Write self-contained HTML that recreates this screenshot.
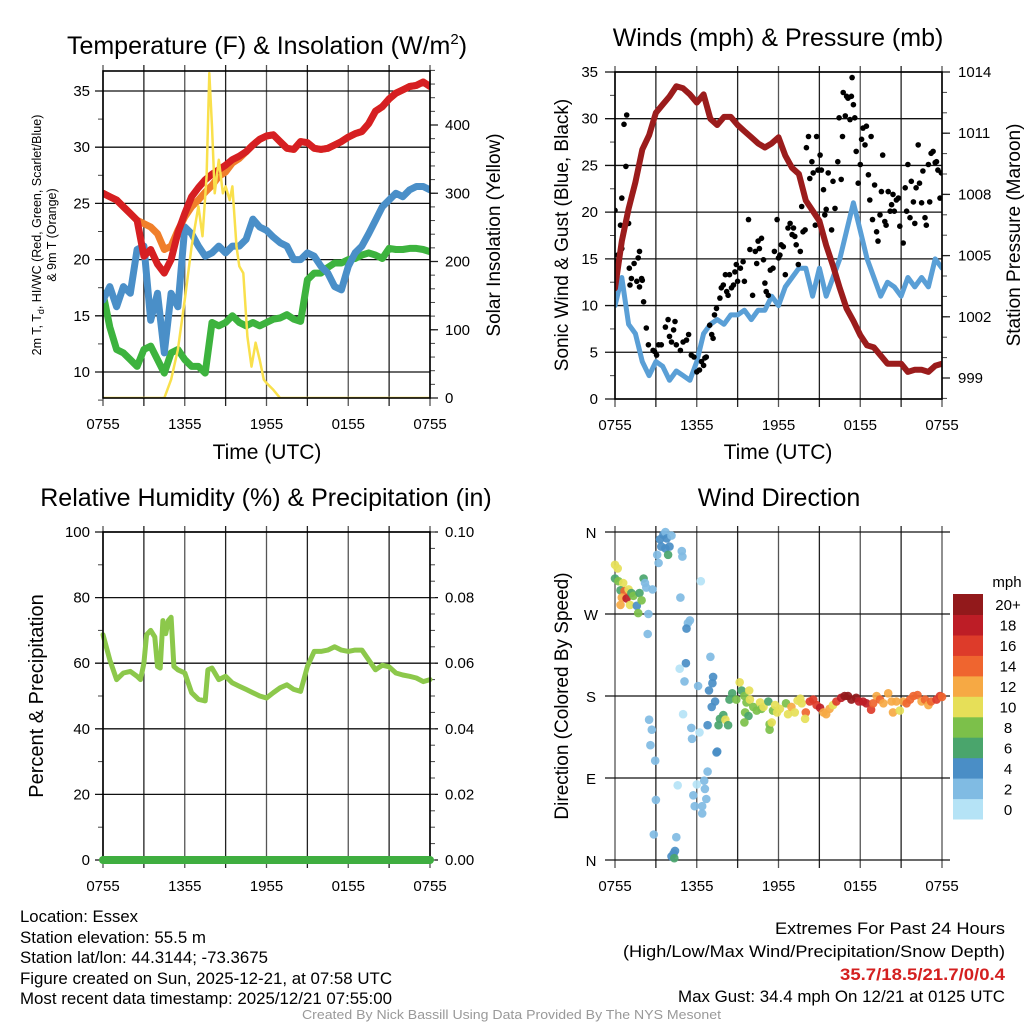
<!DOCTYPE html>
<html><head><meta charset="utf-8"><title>Mesonet Essex</title>
<style>
html,body{margin:0;padding:0;background:#fff;}
svg{display:block;font-family:"Liberation Sans",Arial,sans-serif;}
</style></head>
<body>
<svg id="fig" xmlns="http://www.w3.org/2000/svg" width="1024" height="1024" viewBox="0 0 1024 1024">
<rect x="0" y="0" width="1024" height="1024" fill="#fff"/>
<text x="267" y="54" font-size="25" text-anchor="middle">Temperature (F) &amp; Insolation (W/m<tspan font-size="15" dy="-10">2</tspan><tspan dy="10">)</tspan></text>
<text x="778" y="46" font-size="25" text-anchor="middle">Winds (mph) &amp; Pressure (mb)</text>
<text x="266" y="506" font-size="25" text-anchor="middle">Relative Humidity (%) &amp; Precipitation (in)</text>
<text x="779" y="506" font-size="25" text-anchor="middle">Wind Direction</text>

<text transform="translate(41,235) rotate(-90)" font-size="12.5" text-anchor="middle">2m T, T<tspan font-size="9" dy="3">d</tspan><tspan dy="-3">, HI/WC (Red, Green, Scarlet/Blue)</tspan></text>
<text transform="translate(56,235) rotate(-90)" font-size="12.5" text-anchor="middle">&amp; 9m T (Orange)</text>
<text transform="translate(500,235) rotate(-90)" font-size="19" text-anchor="middle">Solar Insolation (Yellow)</text>
<text x="267" y="459" font-size="21" text-anchor="middle">Time (UTC)</text>
<text transform="translate(568,235) rotate(-90)" font-size="19" text-anchor="middle">Sonic Wind &amp; Gust (Blue, Black)</text>
<text transform="translate(1020,235) rotate(-90)" font-size="19" text-anchor="middle">Station Pressure (Maroon)</text>
<text x="778" y="459" font-size="21" text-anchor="middle">Time (UTC)</text>
<text transform="translate(43,696) rotate(-90)" font-size="20" text-anchor="middle">Percent &amp; Precipitation</text>
<text transform="translate(568,696) rotate(-90)" font-size="19" text-anchor="middle">Direction (Colored By Speed)</text>

<g font-size="16.5">
<text x="20" y="922" textLength="118" lengthAdjust="spacingAndGlyphs">Location: Essex</text>
<text x="20" y="943" textLength="186" lengthAdjust="spacingAndGlyphs">Station elevation: 55.5 m</text>
<text x="20" y="963" textLength="248" lengthAdjust="spacingAndGlyphs">Station lat/lon: 44.3144; -73.3675</text>
<text x="20" y="984" textLength="372" lengthAdjust="spacingAndGlyphs">Figure created on Sun, 2025-12-21, at 07:58 UTC</text>
<text x="20" y="1004" textLength="372" lengthAdjust="spacingAndGlyphs">Most recent data timestamp: 2025/12/21 07:55:00</text>
</g>
<g font-size="16.5">
<text x="775" y="934" textLength="230" lengthAdjust="spacingAndGlyphs">Extremes For Past 24 Hours</text>
<text x="623" y="957" textLength="382" lengthAdjust="spacingAndGlyphs">(High/Low/Max Wind/Precipitation/Snow Depth)</text>
<text x="840" y="980" textLength="165" lengthAdjust="spacingAndGlyphs" fill="#d42020" font-weight="bold">35.7/18.5/21.7/0/0.4</text>
<text x="678" y="1002" textLength="327" lengthAdjust="spacingAndGlyphs">Max Gust: 34.4 mph On 12/21 at 0125 UTC</text>
</g>
<text x="302" y="1019" font-size="13" textLength="419" lengthAdjust="spacingAndGlyphs" fill="#999">Created By Nick Bassill Using Data Provided By The NYS Mesonet</text>
</svg>
<script>
// ---------- data ----------
const hours = [0,0.5,1,1.5,2,2.5,3,3.5,4,4.5,5,5.5,6,6.5,7,7.5,8,8.5,9,9.5,10,10.5,11,11.5,12,12.5,13,13.5,14,14.5,15,15.5,16,16.5,17,17.5,18,18.5,19,19.5,20,20.5,21,21.5,22,22.5,23,23.5,24];
const xTickLabels = ["0755","1355","1955","0155","0755"];
const tempRed = [25.9,25.6,25.3,24.7,24.1,23.5,20.3,20.9,19.6,18.8,20,22.4,24.1,25.6,26.4,27.1,27.6,28,28.4,28.9,29.2,29.6,30.2,30.7,31,31.1,30.5,29.9,29.8,30.5,30.4,29.9,29.8,29.9,30.2,30.5,30.9,31.2,31.4,32.1,33.2,33.6,34.3,34.8,35.1,35.4,35.5,35.8,35.4];
const temp9m = [25.9,25.6,25.3,24.7,24.1,23.5,23.2,22.9,22.3,20.9,21.2,22.6,23.8,24.7,25.3,26,26.6,27.4,27.8,28.6,29,29.6,30.2,30.7,31,31.1,30.5,29.9,29.8,30.5,30.4,29.9,29.8,29.9,30.2,30.5,30.9,31.2,31.4,32.1,33.2,33.6,34.3,34.8,35.1,35.4,35.5,35.8,35.4];
const windChill = [16.4,17.6,15.8,17.6,17,20.9,21.2,14.6,17,11.7,17,15.8,22.9,22.3,21.2,20.3,20.6,21.2,20.6,21.2,21.2,21.8,23.6,22.9,22.6,22,21.5,21.2,20,20,20.6,20.3,19.4,18.8,17.6,17.3,19.4,20.6,21.2,22.3,23.5,24.7,25.3,25.9,25.6,26.2,26.5,26.5,26.2];
const dewPoint = [17,14,12,11.7,11.1,10.5,12,12.3,11.1,9.9,11.7,12,11.1,10.5,10.5,9.9,14.4,14.1,14.4,15,14.4,14.1,14.4,14.1,14.4,14.7,14.8,15.1,14.7,14.5,18.2,18.8,18.8,19.3,19.7,19.7,20,20.1,20.4,20.6,20.4,20.1,21,20.9,20.9,21,21,20.9,20.7];
const solarHours = [0,4.5,5,5.5,6,6.5,7,7.3,7.6,7.8,8,8.2,8.5,8.8,9,9.3,9.5,9.8,10,10.3,10.6,10.9,11.2,11.5,11.8,12,12.5,13,24];
const solarValues = [0,0,27,71,144,222,281,237,325,476,398,300,349,300,310,290,310,222,193,183,90,46,81,56,27,22,12,0,0];
const tempTicks = [10,15,20,25,30,35];
const solarTicks = [0,100,200,300,400];

const windSpeed = [10,13,8,7,4,2.5,4,3.5,2,3,2.5,2,4,7,8,8.5,8,9,9,9.5,8.5,9.5,9.5,11,10,12,13,14,14,11,14,11,13,15,18,21,18,15,13,11,12.5,12,11,13,12,13,12,15,14];
const pressure = [1003.4,1005.7,1007.3,1008.6,1010.2,1010.9,1012,1012.4,1012.8,1013.3,1013.2,1012.9,1012.5,1012.9,1011.7,1011.4,1011.8,1011.8,1011.4,1011.1,1010.8,1010.5,1010.3,1010.5,1010.8,1009.9,1009.3,1009,1007.7,1007.2,1006.7,1005.5,1004.5,1003.4,1002.4,1001.8,1001.1,1000.6,1000.5,1000.1,999.7,999.7,999.7,999.3,999.4,999.4,999.3,999.6,999.7];
const gustHours = [0,0,0.2,0.4,0.5,0.5,0.66,0.8,0.86,0.7,1,1.05,1.1,1.2,1.4,1.6,1.7,1.8,1.8,1.95,2,2.1,2.3,2.45,2.8,2.9,3.05,3.2,3.4,3.7,3.9,4,4.15,4.3,4.4,4.5,4.8,5,5.25,5.4,5.6,5.8,6,6.2,6.35,6.5,6.6,6.7,6.95,7.1,7.2,7.3,7.45,7.7,7.8,7.95,8.1,8.2,8.3,8.4,8.55,8.7,8.8,8.9,9,9.2,9.4,9.5,9.8,9.9,10.1,10.3,10.4,10.5,10.6,10.75,10.9,11,11.1,11.25,11.4,11.6,11.7,11.9,12,12.1,12.2,12.35,12.5,12.7,12.85,13,13.1,13.2,13.3,13.45,13.6,13.7,13.8,13.95,14.05,14.2,14.3,14.45,14.55,14.7,14.8,14.9,15.05,15.15,15.3,15.4,15.5,15.65,15.9,16,16.15,16.35,16.45,16.6,16.7,16.75,16.9,17,17.1,17.25,17.35,17.4,17.5,17.6,17.7,17.85,18,18.1,18.2,18.35,18.45,18.6,18.7,18.8,18.9,19.05,19.2,19.3,19.45,19.55,19.65,19.8,19.9,20.05,20.2,20.3,20.4,20.5,20.65,20.8,20.9,21.15,21.3,21.4,21.5,21.65,21.75,21.9,22,22.1,22.25,22.35,22.5,22.6,22.75,22.85,23,23.1,23.2,23.35,23.5,23.6,23.7,23.85,23.95];
const gustValues = [20.2,14.7,15.4,18.6,16.1,21.5,29.4,24.9,30.4,18.3,18.8,14,12.2,12.9,14.5,12.6,15.1,15.8,12,12.9,12.7,10.4,7.6,5.8,5.2,5.1,4.7,5.8,5.8,7.7,8.5,6.7,6.1,7.4,8.3,5.8,5.2,6.1,6.3,6.9,4.7,4.5,2.9,3.1,4,3.6,4.4,4.5,7.9,6.9,6.5,9,9.7,10.8,11.9,12.2,13.3,11.5,11.1,13.3,11.9,12.2,13.6,14.4,12.6,14,14.7,12.6,19.2,16,11.1,15.8,14.5,16.9,16.1,17.2,14.9,12.4,11.5,11.1,13.8,14,15.8,19.2,15.1,15.4,16.5,16.3,13.3,18.3,18.8,17.6,18.3,17.4,16.5,14.4,15.8,20.6,17.9,18.1,26.9,28.1,23.6,25.4,24.2,18.6,28.1,24.5,26.1,24.5,22.4,19.7,20.3,24.2,18.1,23.3,20.4,25.4,30.1,23.5,28.1,32.8,30.3,32.4,32.2,29.9,32.4,34.4,31.5,30.1,26.5,23.1,25.1,27.8,29,27.2,29.2,24,21.3,28.1,19.2,22.9,17.9,16.9,19.7,22.2,26.1,19,18.6,22.2,20.1,20.8,21.9,20.1,21.3,21.5,18.5,16.7,22.6,20.1,25.1,19.4,23.3,21.1,18.8,22.6,27.2,23.1,21,24.4,19.4,18.6,25.1,21.1,26.3,26.5,25.3,25.4,24.5,21.5,24.2];
const windTicks = [0,5,10,15,20,25,30,35];
const pressureTicks = [999,1002,1005,1008,1011,1014];

const rhHours = [0,0.5,1,1.5,2,2.5,2.75,3,3.2,3.5,3.8,4,4.2,4.4,4.6,4.8,5,5.2,5.5,6,6.5,7,7.5,7.7,8,8.5,9,9.5,10,10.5,11,11.5,12,12.5,13,13.5,14,14.5,15,15.5,16,16.5,17,17.5,18,18.5,19,19.5,20,20.5,21,21.5,22,22.5,23,23.5,24];
const rhValues = [68.7,61,55,57,57.5,56,55,60,68.7,70,68,59,58.5,73,69,73,74,59,58,57,51,49,48.5,58,58.5,55,56,54,53,52,51,50,49.4,51,52.5,53.4,52,51.4,59,63.6,63.6,64,65,64,63.6,64,64,61,58,59.4,58.9,57,56.4,56,55.5,54.4,55];
const precipHours = [0,24];
const precipValues = [0,0];
const rhTicks = [0,20,40,60,80,100];
const precipTicks = ["0.00","0.02","0.04","0.06","0.08","0.10"];

const dirHours = [0,0.2,0,0.25,0.6,0.4,0.7,1,0.5,0.85,0.4,1.1,1.2,1.35,1.6,1.7,1.8,1.95,2.1,2.2,2.3,2.75,2.45,2.4,3.2,3.1,3.3,3.55,3.7,3.8,4.15,3.4,3.7,4,3.9,4.9,4.95,6.3,4.8,5.5,5.35,5.25,7,5.2,4.75,5.1,6.1,7.2,7.15,6.9,7.35,7.1,5,6.8,5.6,6.2,5.65,7.5,7.45,6.8,6.55,6,4.6,6.6,5.75,6.7,5.85,6.4,6.4,4.5,4.4,4.3,4.15,4.35,2.5,2.7,2.6,2.95,3,2.85,7.7,7.95,8.1,7.6,8.3,8.4,8.6,8.9,9.15,9.3,9.5,9.65,9.9,9.85,9.55,9.8,9.5,10.15,10.4,10.65,10.75,10.9,11.25,11.35,11.35,11.5,11.6,11.75,11.9,12.1,12.55,12.7,12.95,13.2,13.4,13.6,13.7,14,13.95,14.3,14.55,14.8,15.05,15.3,15.5,15.75,16,16.25,16.6,16.85,17.1,17.35,17.7,17.9,18.2,18.45,18.8,18.95,19.2,19.45,19.7,20.05,20.3,20.4,20.65,20.9,21.15,21.4,21.65,21.9,22.2,22.5,22.75,23,23.2,23.6,23.85,24];
const dirDegrees = [324,320,309,306,304,296,295,297,288,287,280,280,293,290,279,271,293,285,309,304,299,297,270,248,326,335,352,357,360,353,356,344,342,344,335,339,333,306,288,263,260,254,223,216,210,196,191,201,194,186,174,168,160,148,145,140,133,119,118,97,87,83,82,78,71,67,59,59,51,25,10,7,4,2,154,143,126,109,66,28,155,159,154,148,148,176,183,176,195,186,180,173,176,186,162,158,151,168,164,173,166,168,174,149,143,151,164,170,162,166,172,160,168,162,175,177,172,162,155,174,176,170,167,162,160,166,170,174,178,180,180,176,178,174,174,172,165,172,180,176,172,183,174,162,174,164,174,172,176,180,181,174,176,170,174,176,180,179];
const dirSpeeds = [10,10,6,8,10,6,14,10,12,18,12,10,6,8,4,8,6,8,6,2,2,2,2,2,2,2,4,4,2,4,2,4,4,4,6,2,2,0,2,2,2,4,2,4,0,2,2,4,4,4,4,4,0,4,2,0,2,4,4,2,2,0,0,2,2,2,2,2,2,2,4,4,4,6,2,2,2,2,2,2,6,6,10,6,6,6,6,8,10,6,8,8,10,10,8,6,8,8,8,10,8,10,6,8,8,10,8,10,10,10,8,10,12,10,10,10,10,14,10,16,16,16,18,12,12,12,10,16,18,20,20,20,20,18,18,18,16,14,12,14,12,12,12,12,12,10,12,14,14,14,14,12,14,12,14,16,16,14];
const dirTickLabels = ["N","E","S","W","N"];
const dirTickDegrees = [0,90,180,270,360];
const speedBinLabels = ["0","2","4","6","8","10","12","14","16","18","20+"];
const speedBinColors = ["#b5e3f6","#80bbe3","#4a8ec6","#4aa56c","#7cc04a","#e6df58","#f6a944","#ef652f","#dd3b2a","#bd1d26","#92191b"];

// ---------- helpers ----------
const NS = "http://www.w3.org/2000/svg";
const svg = document.getElementById("fig");
function mk(tag, attrs, parent){
  const e = document.createElementNS(NS, tag);
  for (const k in attrs) e.setAttribute(k, attrs[k]);
  (parent || svg).appendChild(e);
  return e;
}
function pathFrom(xs, ys, fx, fy){
  let d = "";
  for (let i = 0; i < xs.length; i++) d += (i ? "L" : "M") + fx(xs[i]).toFixed(1) + "," + fy(ys[i]).toFixed(1);
  return d;
}
function txt(x, y, s, anchor, size, parent){
  const t = mk("text", {x:x, y:y, "font-size":size||15, "text-anchor":anchor||"middle"}, parent);
  t.textContent = s;
  return t;
}

const PW = 327;
const xA = h => 103 + h / 24 * PW;
const xB = h => 615 + h / 24 * PW;
const yT = v => 372 - (v - 10) * 11.24;
const yS = v => 398 - v * 0.6825;
const yW = v => 399 - v * 9.343;
const yP = v => 378 - (v - 999) * 20.4;
const yR = v => 860 - v * 3.28;
const yPr = v => 860 - v / 0.1 * 328;
const yD = d => 860 - d / 360 * 328;

function grid(g, fx, top, bot){
  for (let h = 0; h <= 24; h += 3){
    const l = mk("line", {x1:fx(h), x2:fx(h), y1:top-6, y2:bot+8, stroke:(h%6===0?"#555":"#222"), "stroke-width":1.3}, g);
    
    
  }
  for (let i = 0; i < xTickLabels.length; i++){
    const t = txt(fx(i*6), bot+31, xTickLabels[i], "middle", 15, g);
    
    
  }
}
function hline(g, y, x1, x2){
  const l = mk("line", {x1:x1, x2:x2, y1:y, y2:y, stroke:"#111", "stroke-width":1.3}, g);
  
  
}
function minor(g, x, y, dir){
  const l = mk("line", {x1:x, x2:x+dir*5, y1:y, y2:y, stroke:"#444", "stroke-width":1}, g);
  
  
}
function frame(g, x, y, w, h){
  const r = mk("rect", {x:x, y:y, width:w, height:h, fill:"none", stroke:"#000", "stroke-width":1.6}, g);
  
  
}

// ---------- Panel 1: temperature ----------
const g1 = mk("g", {});


grid(g1, xA, 71, 398);
for (const v of tempTicks){
  hline(g1, yT(v), 95, 430);
  const t = txt(90, yT(v)+5, String(v), "end", 15, g1);
  
  
}
for (let v = 7.5; v <= 36; v += 5) minor(g1, 103, yT(v), -1);
for (let v = 0; v <= 480; v += 20) minor(g1, 430, yS(v), 1);
for (const v of solarTicks){
  const l = mk("line", {x1:430, x2:438, y1:yS(v), y2:yS(v), stroke:"#222", "stroke-width":1.3}, g1);
  
  
  const t = txt(445, yS(v)+5, String(v), "start", 15, g1);
  
  
}
const lineStyle = {fill:"none", "stroke-linejoin":"round", "stroke-linecap":"round"};
const clip1 = mk("clipPath", {id:"c1"});
mk("rect", {x:103, y:71, width:PW, height:327}, clip1);
const s1 = mk("g", {"clip-path":"url(#c1)"}, g1);
const pDew = mk("path", Object.assign({d:pathFrom(hours, dewPoint, xA, yT), stroke:"#3db33e", "stroke-width":7}, lineStyle), s1);


const pWc = mk("path", Object.assign({d:pathFrom(hours, windChill, xA, yT), stroke:"#4a8fc8", "stroke-width":7}, lineStyle), s1);


const p9 = mk("path", Object.assign({d:pathFrom(hours, temp9m, xA, yT), stroke:"#f07f2a", "stroke-width":7}, lineStyle), s1);


const pT = mk("path", Object.assign({d:pathFrom(hours, tempRed, xA, yT), stroke:"#d61f22", "stroke-width":7}, lineStyle), s1);


const pS = mk("path", Object.assign({d:pathFrom(solarHours, solarValues, xA, yS), stroke:"#f9e04c", "stroke-width":2.5}, lineStyle), s1);


frame(g1, 103, 71, PW, 327);

// ---------- Panel 2: winds ----------
const g2 = mk("g", {});


grid(g2, xB, 72, 399);
for (const v of windTicks){
  hline(g2, yW(v), 605, 942);
  const t = txt(598, yW(v)+5, String(v), "end", 15, g2);
  
  
}
for (let v = 2.5; v <= 35; v += 5) minor(g2, 615, yW(v), -1);
for (let v = 998; v <= 1014; v += 1) if (yP(v) <= 399) minor(g2, 942, yP(v), 1);
for (const v of pressureTicks){
  const l = mk("line", {x1:942, x2:950, y1:yP(v), y2:yP(v), stroke:"#222", "stroke-width":1.3}, g2);
  
  
  const t = txt(958, yP(v)+5, String(v), "start", 15, g2);
  
  
}
const clip2 = mk("clipPath", {id:"c2"});
mk("rect", {x:615, y:60, width:PW, height:339}, clip2);
const s2 = mk("g", {"clip-path":"url(#c2)"}, g2);
const pWind = mk("path", Object.assign({d:pathFrom(hours, windSpeed, xB, yW), stroke:"#5a9fd6", "stroke-width":5}, lineStyle), s2);


for (let i = 0; i < gustHours.length; i++){
  const c = mk("circle", {cx:xB(gustHours[i]).toFixed(1), cy:yW(gustValues[i]).toFixed(1), r:2.8, fill:"#000"}, s2);
  
  
}
const pPres = mk("path", Object.assign({d:pathFrom(hours, pressure, xB, yP), stroke:"#9b1c1c", "stroke-width":6}, lineStyle), s2);


frame(g2, 615, 72, PW, 327);

// ---------- Panel 3: RH ----------
const g3 = mk("g", {});


grid(g3, xA, 532, 860);
for (const v of rhTicks){
  hline(g3, yR(v), 95, 438);
  const t = txt(90, yR(v)+5, String(v), "end", 15, g3);
  
  
}
for (let v = 10; v < 100; v += 20) minor(g3, 103, yR(v), -1);
for (let v = 0; v <= 100; v += 5) minor(g3, 430, yR(v), 1);
for (let i = 0; i < precipTicks.length; i++){
  const t = txt(445, yPr(parseFloat(precipTicks[i]))+5, precipTicks[i], "start", 15, g3);
  
  
}
const pRh = mk("path", Object.assign({d:pathFrom(rhHours, rhValues, xA, yR), stroke:"#8cc84b", "stroke-width":5}, lineStyle), g3);


frame(g3, 103, 532, PW, 328);
const pPr = mk("path", Object.assign({d:pathFrom(precipHours, precipValues, xA, yPr), stroke:"#3fae40", "stroke-width":8}, lineStyle), g3);



// ---------- Panel 4: wind direction ----------
const g4 = mk("g", {});


grid(g4, xB, 532, 860);
for (let i = 0; i < dirTickDegrees.length; i++){
  hline(g4, yD(dirTickDegrees[i]), 605, 950);
  const t = txt(591, yD(dirTickDegrees[i])+6, dirTickLabels[i], "middle", 15, g4);
  
  
}
for (let i = 0; i < dirHours.length; i++){
  const bin = Math.min(10, Math.floor(dirSpeeds[i] / 2));
  const c = mk("circle", {cx:xB(dirHours[i]).toFixed(1), cy:yD(dirDegrees[i]).toFixed(1), r:4.3, fill:speedBinColors[bin], "fill-opacity":0.92}, g4);
  
  
}
const cb = mk("g", {});


const cbTop = 594, cbH = 225, cbN = speedBinLabels.length;
for (let i = 0; i < cbN; i++){
  const y = cbTop + (cbN - 1 - i) * cbH / cbN;
  const r = mk("rect", {x:953, y:y.toFixed(1), width:30, height:(cbH/cbN+0.5).toFixed(1), fill:speedBinColors[i]}, cb);
  
  
  const t = txt(1008, y + cbH/cbN/2 + 6, speedBinLabels[i], "middle", 15, cb);
  
  
}
const cbt = txt(1007, 587, "mph", "middle", 15, cb);


</script>
</body></html>
